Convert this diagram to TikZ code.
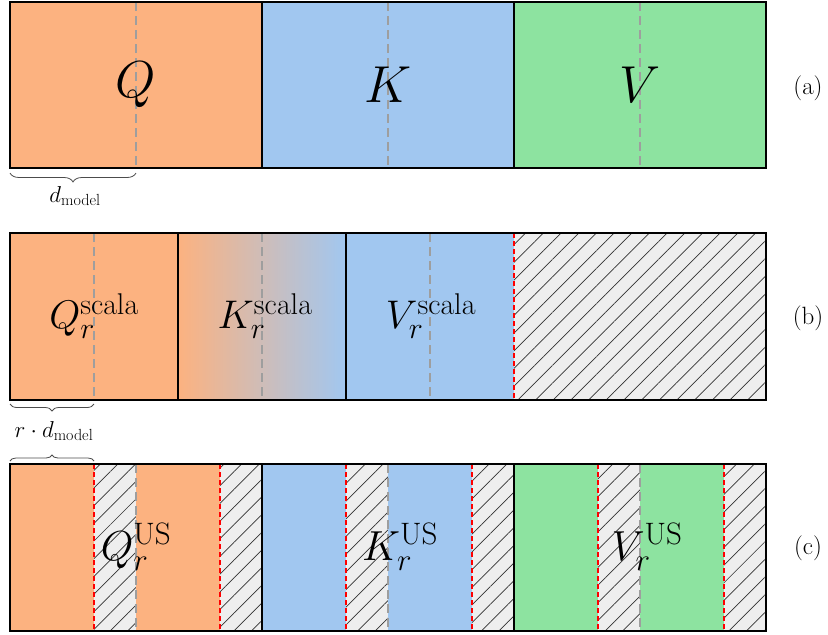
\RequirePackage{fix-cm}
\documentclass[tikz,border=0pt]{standalone}
\usepackage{amsmath}
\usetikzlibrary{patterns.meta, decorations.pathreplacing}

\DeclareMathSizes{40}{40}{30}{22}
\DeclareMathSizes{42}{42}{31}{22}

\definecolor{qorange}{RGB}{252,178,128}
\definecolor{kblue}{RGB}{161,199,240}
\definecolor{vgreen}{RGB}{141,227,160}
\definecolor{hatchgray}{RGB}{238,238,238}
\definecolor{midgray}{RGB}{158,158,158}

\begin{document}
\begin{tikzpicture}[x=1pt, y=-1pt,
    frame/.style={draw, line width=2pt},
    divider/.style={draw, line width=1.2pt},
    midline/.style={draw=midgray, line width=1.8pt, dash pattern=on 9pt off 5pt},
    cutline/.style={draw=red, line width=1.3pt, dash pattern=on 5pt off 3pt},
    hatched/.style={fill=hatchgray, postaction={pattern={Lines[angle=45, distance=12.5pt, line width=0.7pt]}, pattern color=black!80}},
    widthbrace/.style={draw=black!70, line width=0.8pt, decorate, decoration={brace, amplitude=#1}},
    biglabel/.style={font=\fontsize{52}{60}\selectfont},
    scalalabel/.style={font=\fontsize{40}{46}\selectfont},
    uslabel/.style={font=\fontsize{42}{48}\selectfont},
    sizelabel/.style={font=\fontsize{23}{27}\selectfont},
    tag/.style={font=\fontsize{25}{29}\selectfont}]
  \useasboundingbox (0,0) rectangle (828,635);

  % row (a): full Q, K, V
  \fill[qorange] (10,2) rectangle (262,168);
  \fill[kblue] (262,2) rectangle (514,168);
  \fill[vgreen] (514,2) rectangle (766,168);
  \foreach \x in {136,388,640} \draw[midline] (\x,2) -- (\x,168);
  \draw[divider] (262,2) -- (262,168) (514,2) -- (514,168);
  \draw[frame] (10,2) rectangle (766,168);
  \node[biglabel] (qa) at (136,85) {$Q$};
  \node[biglabel] (ka) at (388,85) {$K$};
  \node[biglabel] (va) at (640,85) {$V$};
  \node[tag] (taga) at (808,88) {(a)};
  \draw[widthbrace=9pt, decoration={mirror}] (10,173) -- (136,173);
  \node[sizelabel] (dmodel) at (75,196) {$d_{\text{model}}$};

  % row (b): scala
  \fill[qorange] (10,233) rectangle (178,400);
  \shade[left color=qorange, right color=kblue] (178,233) rectangle (346,400);
  \fill[kblue] (346,233) rectangle (514,400);
  \path[hatched] (514,233) rectangle (766,400);
  \foreach \x in {94,262,430} \draw[midline] (\x,233) -- (\x,400);
  \draw[divider] (178,233) -- (178,400) (346,233) -- (346,400);
  \draw[cutline] (514,233) -- (514,400);
  \draw[frame] (10,233) rectangle (766,400);
  \node[scalalabel] (qb) at (94,316) {$Q_r^{\mathrm{scala}}$};
  \node[scalalabel] (kb) at (265,316) {$K_r^{\mathrm{scala}}$};
  \node[scalalabel] (vb) at (431,316) {$V_r^{\mathrm{scala}}$};
  \node[tag] (tagb) at (808,318) {(b)};
  \draw[widthbrace=7pt, decoration={mirror}] (10,404) -- (94,404);
  \node[sizelabel] (rdmodel) at (54,431) {$r\cdot d_{\text{model}}$};
  \draw[widthbrace=6pt] (10,461) -- (94,461);

  % row (c): US
  \foreach \x/\c in {10/qorange, 262/kblue, 514/vgreen} {
    \fill[\c] (\x,464) rectangle ++(84,167);
    \path[hatched] (\x+84,464) rectangle ++(42,167);
    \fill[\c] (\x+126,464) rectangle ++(84,167);
    \path[hatched] (\x+210,464) rectangle ++(42,167);
    \draw[cutline] (\x+84,464) -- ++(0,167) (\x+210,464) -- ++(0,167);
    \draw[midline] (\x+126,464) -- ++(0,167);
  }
  \draw[divider] (262,464) -- (262,631) (514,464) -- (514,631);
  \draw[frame] (10,464) rectangle (766,631);
  \node[uslabel] (qc) at (136,547) {$Q_r^{\mathrm{US}}$};
  \node[uslabel] (kc) at (400,547) {$K_r^{\mathrm{US}}$};
  \node[uslabel] (vc) at (647,547) {$V_r^{\mathrm{US}}$};
  \node[tag] (tagc) at (808,548) {(c)};
\end{tikzpicture}
\end{document}
